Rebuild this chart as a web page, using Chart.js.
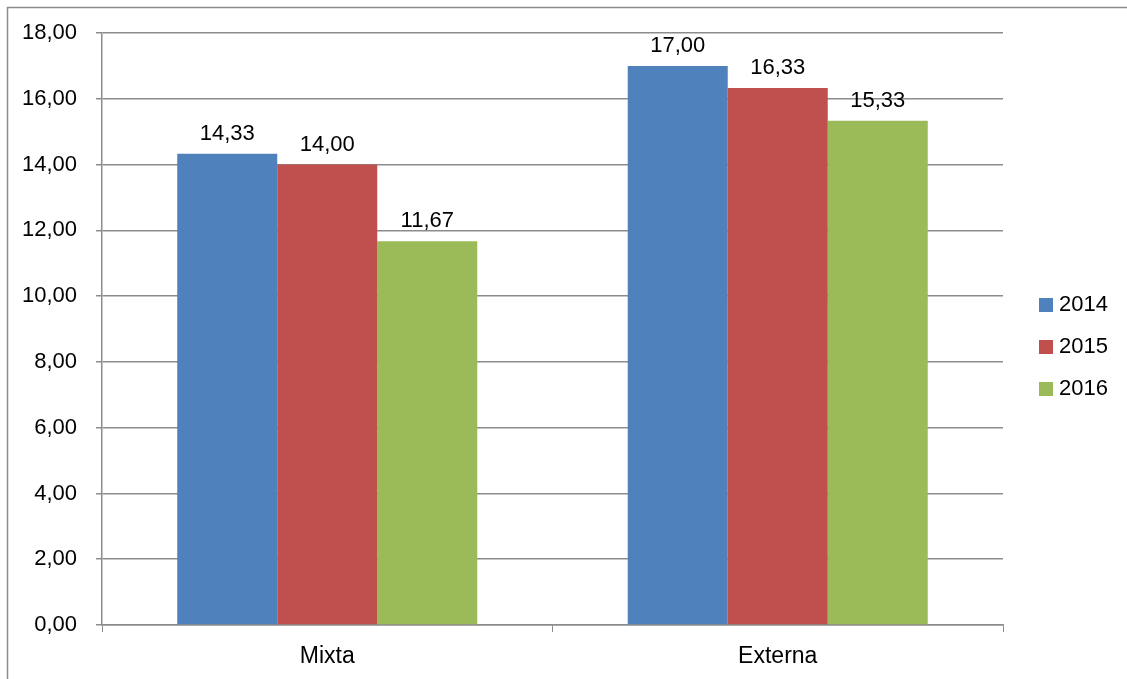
<!DOCTYPE html>
<html>
<head>
<meta charset="utf-8">
<script src="https://cdn.jsdelivr.net/npm/chart.js@4/dist/chart.umd.min.js"></script>
<style>
  html, body { margin: 0; padding: 0; background: #fff; }
  canvas { display: block; }
</style>
</head>
<body>
<canvas id="chart" width="1127" height="679"></canvas>
<script>
// data
const categories = ['Mixta', 'Externa'];
const seriesNames = ['2014', '2015', '2016'];
const values2014 = [14.33, 17.00];
const values2015 = [14.00, 16.33];
const values2016 = [11.67, 15.33];
const colors = ['#4f81bd', '#c0504d', '#9bbb59'];
const yMin = 0, yMax = 18, yStep = 2;

const FONT = "'Liberation Sans', Arial, sans-serif";
const fmt = v => v.toFixed(2).replace('.', ',');

// outer frame of the chart (only top + left edges are visible in the picture)
const framePlugin = {
  id: 'frame',
  beforeDraw(chart) {
    const ctx = chart.ctx;
    ctx.save();
    ctx.strokeStyle = '#8c8c8c';
    ctx.lineWidth = 1.5;
    ctx.beginPath();
    ctx.moveTo(7.5, chart.height + 2);
    ctx.lineTo(7.5, 7.5);
    ctx.lineTo(chart.width + 2, 7.5);
    ctx.stroke();
    ctx.restore();
  }
};

// value labels above bars
const valueLabels = {
  id: 'valueLabels',
  afterDatasetsDraw(chart) {
    const ctx = chart.ctx;
    ctx.save();
    ctx.font = '22px ' + FONT;
    ctx.fillStyle = '#000';
    ctx.textAlign = 'center';
    ctx.textBaseline = 'middle';
    chart.data.datasets.forEach((ds, i) => {
      chart.getDatasetMeta(i).data.forEach((bar, j) => {
        ctx.fillText(fmt(ds.data[j]), bar.x, bar.y - 20);
      });
    });
    ctx.restore();
  }
};

// legend on the right, drawn by hand to place it like the original
const sideLegend = {
  id: 'sideLegend',
  afterDraw(chart) {
    const ctx = chart.ctx;
    ctx.save();
    ctx.font = '22px ' + FONT;
    ctx.textBaseline = 'middle';
    chart.data.datasets.forEach((ds, i) => {
      const y = 305 + i * 42;
      ctx.fillStyle = ds.backgroundColor;
      ctx.fillRect(1039, y - 7, 14, 14);
      ctx.fillStyle = '#000';
      ctx.fillText(ds.label, 1059, y);
    });
    ctx.restore();
  }
};

new Chart(document.getElementById('chart'), {
  type: 'bar',
  data: {
    labels: categories,
    datasets: [
      { label: seriesNames[0], data: values2014, backgroundColor: colors[0] },
      { label: seriesNames[1], data: values2015, backgroundColor: colors[1] },
      { label: seriesNames[2], data: values2016, backgroundColor: colors[2] }
    ]
  },
  options: {
    responsive: false,
    animation: false,
    devicePixelRatio: 1,
    layout: { padding: { top: 33, right: 124, bottom: 0, left: 0 } },
    datasets: { bar: { categoryPercentage: 0.666, barPercentage: 1.0 } },
    plugins: {
      legend: { display: false },
      tooltip: { enabled: false }
    },
    scales: {
      x: {
        offset: true,
        grid: { drawOnChartArea: false, drawTicks: true, tickLength: 7, color: '#8c8c8c', offset: true },
        border: { color: '#8c8c8c', width: 1.5 },
        ticks: { color: '#000', font: { family: FONT, size: 23 }, padding: 11 },
        afterFit(scale) { scale.height = 679 - 625; }
      },
      y: {
        min: yMin,
        max: yMax,
        ticks: { stepSize: yStep, color: '#000', font: { family: FONT, size: 22 }, padding: 19,
                 callback: v => fmt(v) },
        grid: { color: '#8c8c8c', lineWidth: 1.5, tickLength: 6 },
        border: { color: '#8c8c8c', width: 1.5 },
        afterFit(scale) { scale.width = 102; }
      }
    }
  },
  plugins: [framePlugin, valueLabels, sideLegend]
});
</script>
</body>
</html>
